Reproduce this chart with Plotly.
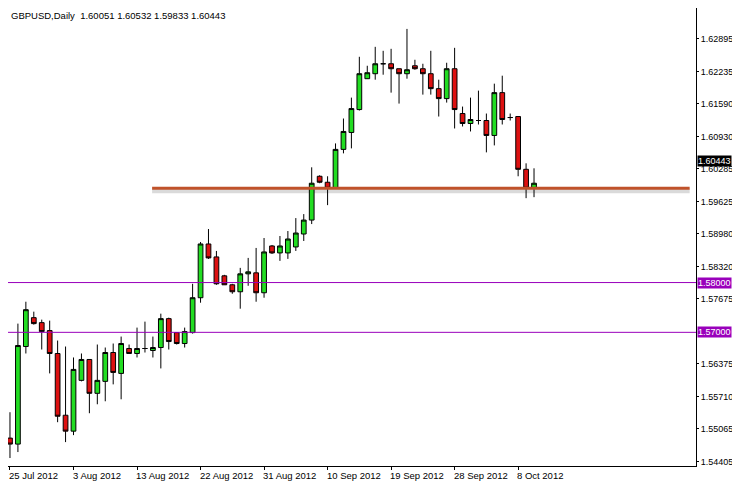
import plotly.graph_objects as go

# daily GBPUSD bars (index 0 = 25 Jul 2012)
opens = [1.54875, 1.54755, 1.56715, 1.57295, 1.57195, 1.57035, 1.56575, 1.55335, 1.55015, 1.56035,
         1.56455, 1.55775, 1.56015, 1.56595, 1.56175, 1.56675, 1.56575, 1.56675, 1.56635, 1.56695,
         1.57275, 1.56995, 1.56775, 1.56995, 1.57695, 1.58775, 1.58515, 1.58135, 1.57955, 1.57815,
         1.58175, 1.58195, 1.57795, 1.58735, 1.58595, 1.58595, 1.58715, 1.58975, 1.59255, 1.60135,
         1.60015, 1.59895, 1.60675, 1.61015, 1.61475, 1.62095, 1.62195, 1.62395, 1.62395, 1.62295,
         1.62195, 1.62355, 1.62295, 1.62195, 1.61895, 1.61695, 1.62295, 1.61395, 1.61195, 1.61255,
         1.61255, 1.60955, 1.61815, 1.61315, 1.61335, 1.60275, 1.59895]
highs = [1.55395, 1.57175, 1.57615, 1.57415, 1.57255, 1.57235, 1.56835, 1.56715, 1.56495, 1.56575,
         1.56455, 1.56755, 1.56695, 1.56775, 1.56915, 1.56755, 1.57095, 1.57215, 1.56915, 1.57375,
         1.57295, 1.56995, 1.57095, 1.57975, 1.58815, 1.59075, 1.58635, 1.58155, 1.57975, 1.58295,
         1.58495, 1.58695, 1.58895, 1.58755, 1.58935, 1.59035, 1.59295, 1.59375, 1.60315, 1.60155,
         1.60135, 1.60795, 1.61295, 1.61715, 1.62535, 1.62355, 1.62735, 1.62655, 1.62695, 1.62295,
         1.63095, 1.62475, 1.62395, 1.62655, 1.62075, 1.62415, 1.62715, 1.61535, 1.61715, 1.61855,
         1.61395, 1.61995, 1.62155, 1.61395, 1.61335, 1.60395, 1.60295]
lows = [1.54475, 1.54595, 1.56575, 1.57155, 1.56655, 1.56175, 1.55195, 1.54795, 1.54935, 1.56015,
        1.55375, 1.55555, 1.55615, 1.55955, 1.55655, 1.56575, 1.56495, 1.56595, 1.56495, 1.56275,
        1.56655, 1.56755, 1.56695, 1.56975, 1.57595, 1.58475, 1.57955, 1.57955, 1.57775, 1.57475,
        1.57935, 1.57615, 1.57695, 1.58575, 1.58435, 1.58475, 1.58635, 1.58835, 1.59175, 1.59995,
        1.59555, 1.59895, 1.60595, 1.60695, 1.61455, 1.62095, 1.62075, 1.62175, 1.61815, 1.61595,
        1.62095, 1.62275, 1.61775, 1.61775, 1.61335, 1.61615, 1.61095, 1.61135, 1.61035, 1.61175,
        1.60615, 1.60755, 1.61175, 1.61255, 1.60135, 1.59695, 1.59715]
closes = [1.54755, 1.56735, 1.57455, 1.57175, 1.57015, 1.56575, 1.55315, 1.55015, 1.56255, 1.56455,
          1.55775, 1.56035, 1.56595, 1.56195, 1.56775, 1.56575, 1.56675, 1.56675, 1.56695, 1.57275,
          1.56815, 1.56775, 1.57015, 1.57695, 1.58775, 1.58495, 1.57975, 1.57955, 1.57815, 1.58175,
          1.58215, 1.57795, 1.58615, 1.58595, 1.58735, 1.58875, 1.58995, 1.59255, 1.59995, 1.60015,
          1.59895, 1.60675, 1.61035, 1.61495, 1.62195, 1.62215, 1.62395, 1.62395, 1.62295, 1.62195,
          1.62275, 1.62295, 1.62195, 1.61895, 1.61695, 1.62295, 1.61475, 1.61195, 1.61275, 1.61255,
          1.60955, 1.61815, 1.61275, 1.61315, 1.60275, 1.59895, 1.59995]

date_pos = [0, 8, 16, 24, 32, 40, 48, 56, 64]
date_labels = ['25 Jul 2012', '3 Aug 2012', '13 Aug 2012', '22 Aug 2012', '31 Aug 2012',
               '10 Sep 2012', '19 Sep 2012', '28 Sep 2012', '8 Oct 2012']
price_ticks = [1.62895, 1.62235, 1.61590, 1.60930, 1.60285, 1.59625, 1.58980, 1.58320,
               1.57675, 1.56375, 1.55710, 1.55065, 1.54405]
levels = [1.58000, 1.57000]
support = 1.59895
last_price = 1.60443

fnt = dict(family='Liberation Sans', size=9.5, color='black')
yfnt = dict(family='Liberation Sans', size=9, color='black')

fig = go.Figure()
fig.add_trace(go.Candlestick(
    x=list(range(len(opens))), open=opens, high=highs, low=lows, close=closes,
    increasing=dict(fillcolor='#22dd22', line=dict(color='black', width=1)),
    decreasing=dict(fillcolor='#dd1111', line=dict(color='black', width=1)),
    whiskerwidth=0, showlegend=False, hoverinfo='skip'))

for lv in levels:
    fig.add_shape(type='line', xref='paper', x0=0, x1=1, y0=lv, y1=lv,
                  line=dict(color='#9900bb', width=1))
    fig.add_annotation(xref='paper', x=1.001, y=lv, text=f'{lv:.5f}', showarrow=False,
                       xanchor='left', bgcolor='#9900bb', font=dict(yfnt, color='white'),
                       borderpad=0)

# hand drawn support line with shadow
fig.add_shape(type='line', x0=17.9, x1=85.6, y0=support - 0.0005, y1=support - 0.0005,
              line=dict(color='rgba(150,150,150,0.35)', width=5), layer='below')
fig.add_shape(type='line', x0=17.9, x1=85.6, y0=support, y1=support,
              line=dict(color='#c0522a', width=3))

fig.add_annotation(xref='paper', x=1.001, y=last_price, text=f'{last_price:.5f}', showarrow=False,
                   xanchor='left', bgcolor='black', font=dict(yfnt, color='white'), borderpad=0)

for p, t in zip(date_pos, date_labels):
    fig.add_annotation(x=p, yref='paper', y=0, yanchor='top', xanchor='left', text=t,
                       showarrow=False, font=fnt, yshift=-2, xshift=-3)

fig.add_annotation(xref='paper', yref='paper', x=0.002, y=1, xanchor='left', yanchor='top',
                   text='GBPUSD,Daily  1.60051 1.60532 1.59833 1.60443', showarrow=False, font=fnt)

fig.update_layout(
    width=730, height=480, margin=dict(l=0, r=42, t=0, b=22, autoexpand=False),
    paper_bgcolor='white', plot_bgcolor='white', boxgap=0.15,
    xaxis=dict(range=[-0.25, 86.4], showgrid=False, showticklabels=False, zeroline=False,
               rangeslider=dict(visible=False), showline=True, linecolor='black', mirror=True,
               tickvals=date_pos, ticks='outside', ticklen=3, tickcolor='black', automargin=False),
    yaxis=dict(range=[1.54315, 1.63515], side='right', tickvals=price_ticks,
               ticktext=[f'{v:.5f}' for v in price_ticks], tickfont=yfnt, showgrid=False,
               zeroline=False, showline=True, linecolor='black', mirror=True,
               ticks='outside', ticklen=2, tickcolor='black', automargin=False),
)

fig.write_html('out.html')
